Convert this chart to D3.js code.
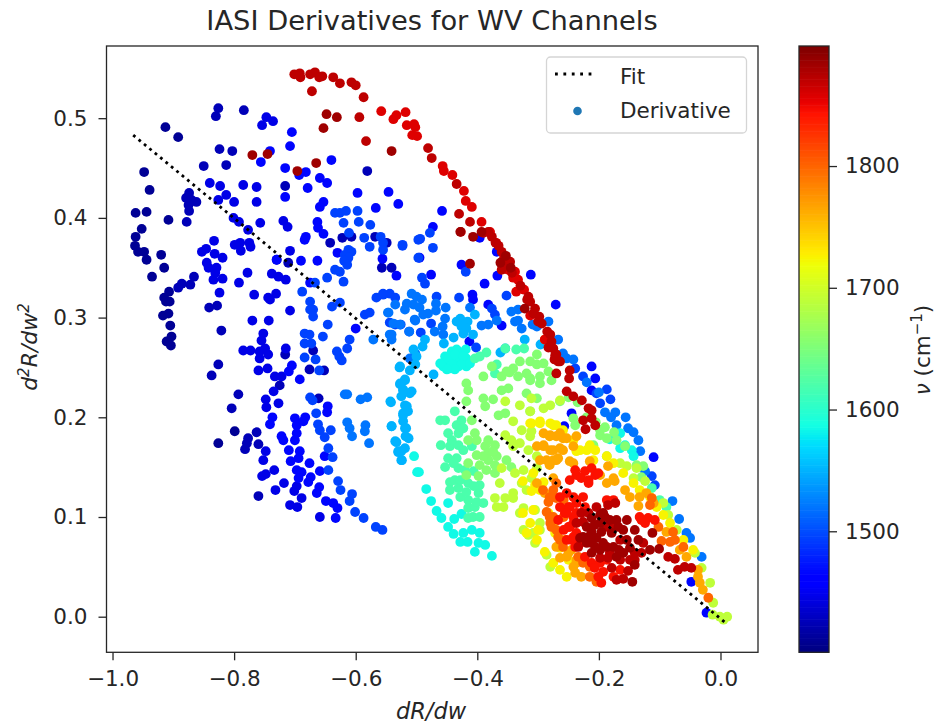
<!DOCTYPE html>
<html>
<head>
<meta charset="utf-8">
<script src="https://cdn.jsdelivr.net/npm/d3@7"></script>
<style>
  html, body { margin: 0; padding: 0; background: #fff; }
  text { font-family: "DejaVu Sans", sans-serif; fill: #262626; }
</style>
</head>
<body>
<svg id="chart" width="934" height="724"></svg>
<script>
// values, [dR/dw, d2R/dw2], one array per wavenumber band
let nu1410 = [[-.913,.491],[-.892,.481],[-.948,.446],[-.939,.428],[-.962,.405],[-.944,.406],[-.952,.389],[-.962,.381],[-.963,.372],[-.958,.366],[-.948,.366],[-.944,.358],[-.920,.363],[-.915,.350],[-.935,.341],[-.908,.398],[-.912,.316],[-.917,.302],[-.908,.304],[-.905,.292],[-.903,.281],[-.911,.276],[-.904,.272],[-.907,.326],[-.915,.320],[-.906,.316],[-.826,.174],[-.799,.186]];
let nu1425 = [[-.826,.510],[-.830,.502],[-.784,.508],[-.874,.425],[-.879,.420],[-.870,.418],[-.862,.416],[-.875,.413],[-.874,.407],[-.878,.396],[-.866,.341],[-.872,.333],[-.886,.334],[-.892,.330],[-.841,.310],[-.828,.312],[-.821,.287],[-.826,.253],[-.837,.242],[-.804,.209],[-.793,.223],[-.824,.469],[-.803,.467],[-.850,.452],[-.813,.453],[-.760,.121],[-.777,.179],[-.779,.174],[-.782,.168],[-.763,.185],[-.760,.173],[-.716,.432],[-.730,.358],[-.711,.355],[-.622,.380],[-.607,.381],[-.568,.381],[-.549,.375],[-.557,.350],[-.541,.350],[-.670,.267],[-.676,.248],[-.652,.247],[-.661,.219],[-.716,.263],[-.725,.232],[-.642,.375],[-.581,.447]];
let nu1445 = [[-.747,.501],[-.754,.493],[-.736,.497],[-.840,.435],[-.823,.432],[-.785,.433],[-.763,.431],[-.763,.416],[-.800,.416],[-.813,.423],[-.826,.418],[-.719,.397],[-.712,.391],[-.757,.395],[-.792,.396],[-.801,.400],[-.777,.388],[-.833,.377],[-.853,.366],[-.846,.369],[-.832,.364],[-.819,.360],[-.799,.373],[-.790,.375],[-.789,.367],[-.775,.375],[-.773,.371],[-.845,.355],[-.842,.350],[-.829,.350],[-.831,.345],[-.834,.338],[-.819,.339],[-.778,.345],[-.792,.335],[-.824,.325],[-.767,.323],[-.744,.320],[-.731,.324],[-.741,.318],[-.738,.344],[-.727,.341],[-.715,.338],[-.708,.367],[-.770,.297],[-.743,.297],[-.708,.307],[-.752,.284],[-.755,.277],[-.785,.267],[-.773,.267],[-.758,.266],[-.749,.269],[-.744,.263],[-.758,.259],[-.715,.269],[-.760,.247],[-.745,.249],[-.748,.218],[-.747,.210],[-.727,.214],[-.733,.241],[-.722,.241],[-.735,.226],[-.748,.166],[-.752,.157],[-.734,.147],[-.748,.143],[-.754,.141],[-.718,.134],[-.732,.127],[-.708,.112],[-.696,.110],[-.697,.131],[-.701,.126],[-.689,.119],[-.659,.100]];
let nu1465 = [[-.705,.486],[-.708,.472],[-.741,.467],[-.756,.456],[-.716,.421],[-.716,.450],[-.693,.443],[-.682,.446],[-.679,.430],[-.659,.440],[-.647,.435],[-.640,.458],[-.597,.425],[-.546,.426],[-.530,.414],[-.567,.410],[-.659,.411],[-.653,.416],[-.663,.396],[-.662,.390],[-.653,.384],[-.682,.381],[-.684,.378],[-.730,.358],[-.690,.357],[-.663,.357],[-.630,.365],[-.675,.335],[-.556,.359],[-.533,.342],[-.600,.289],[-.705,.252],[-.710,.246],[-.692,.238],[-.737,.200],[-.741,.193],[-.700,.199],[-.697,.192],[-.683,.200],[-.686,.196],[-.722,.181],[-.719,.177],[-.697,.184],[-.700,.177],[-.710,.167],[-.692,.166],[-.694,.159],[-.707,.156],[-.676,.154],[-.651,.161],[-.697,.147],[-.689,.145],[-.694,.139],[-.659,.146],[-.674,.140],[-.678,.135],[-.660,.130],[-.664,.124],[-.649,.116],[-.637,.114],[-.630,.109],[-.633,.099],[-.646,.211],[-.647,.205],[-.458,.407],[-.396,.380],[-.368,.366],[-.388,.334],[-.367,.342],[-.312,.343],[-.271,.313],[-.408,.323],[-.407,.318],[-.382,.313],[-.413,.276],[-.360,.292],[-.473,.391],[-.476,.343],[-.426,.353],[-.495,.360],[-.048,.035],[-.023,.004],[-.110,.160],[-.212,.251],[-.206,.239],[-.245,.204],[-.257,.191],[-.212,.227]];
let nu1495 = [[-.634,.405],[-.626,.405],[-.616,.407],[-.620,.395],[-.597,.407],[-.595,.396],[-.576,.393],[-.611,.385],[-.612,.368],[-.607,.366],[-.618,.363],[-.612,.360],[-.619,.357],[-.614,.353],[-.586,.380],[-.577,.371],[-.559,.381],[-.555,.375],[-.555,.368],[-.523,.372],[-.497,.378],[-.497,.360],[-.634,.348],[-.626,.346],[-.647,.340],[-.620,.336],[-.667,.335],[-.688,.326],[-.566,.320],[-.555,.324],[-.675,.316],[-.639,.311],[-.626,.315],[-.670,.308],[-.684,.284],[-.676,.283],[-.684,.274],[-.673,.274],[-.684,.260],[-.666,.258],[-.654,.281],[-.646,.293],[-.675,.308],[-.670,.301],[-.585,.303],[-.577,.305],[-.610,.278],[-.614,.269],[-.631,.266],[-.627,.261],[-.623,.257],[-.660,.247],[-.675,.220],[-.671,.217],[-.665,.204],[-.662,.193],[-.659,.187],[-.651,.180],[-.641,.187],[-.645,.169],[-.638,.160],[-.645,.147],[-.629,.136],[-.625,.127],[-.606,.123],[-.610,.116],[-.601,.105],[-.587,.099],[-.567,.090],[-.556,.087],[-.494,.379],[-.478,.385],[-.523,.373],[-.473,.370],[-.419,.346],[-.491,.340],[-.486,.334],[-.430,.320],[-.352,.322],[-.467,.321],[-.544,.324],[-.535,.320],[-.555,.323],[-.376,.309],[-.371,.303],[-.402,.270],[-.476,.294],[-.544,.295],[-.535,.293],[-.526,.293],[-.512,.286],[-.493,.285],[-.187,.228],[-.181,.218],[-.198,.214],[-.204,.224],[-.226,.241],[-.239,.249],[-.108,.132],[-.113,.141]];
let nu1520 = [[-.618,.223],[-.614,.223],[-.592,.218],[-.581,.220],[-.614,.195],[-.610,.189],[-.606,.181],[-.584,.192],[-.585,.186],[-.578,.174],[-.571,.278],[-.547,.305],[-.538,.294],[-.527,.293],[-.541,.283],[-.512,.286],[-.503,.298],[-.508,.324],[-.500,.321],[-.491,.318],[-.516,.314],[-.505,.313],[-.495,.310],[-.519,.308],[-.535,.313],[-.546,.305],[-.468,.314],[-.468,.307],[-.452,.310],[-.412,.310],[-.344,.306],[-.333,.308],[-.489,.303],[-.481,.304],[-.502,.297],[-.453,.299],[-.544,.283],[-.541,.278],[-.393,.292],[-.382,.293],[-.368,.297],[-.338,.296],[-.333,.297],[-.327,.289],[-.457,.291],[-.470,.286],[-.456,.283],[-.302,.291],[-.283,.296],[-.309,.293],[-.267,.278],[-.253,.259],[-.242,.258],[-.259,.264],[-.173,.205],[-.156,.200],[-.171,.192],[-.152,.189],[-.135,.177],[-.143,.185],[-.132,.166],[-.124,.146],[-.079,.116],[-.068,.098],[-.056,.084],[-.050,.079],[-.031,.060],[-.502,.264],[-.511,.259],[-.220,.235],[-.200,.225],[-.190,.205],[-.180,.200]];
let nu1550 = [[-.505,.268],[-.500,.261],[-.528,.250],[-.511,.247],[-.519,.238],[-.527,.233],[-.522,.228],[-.508,.226],[-.525,.221],[-.543,.216],[-.516,.211],[-.522,.204],[-.514,.206],[-.522,.196],[-.541,.191],[-.519,.189],[-.518,.181],[-.533,.175],[-.525,.166],[-.530,.165],[-.525,.157],[-.428,.299],[-.416,.296],[-.434,.296],[-.404,.303],[-.426,.291],[-.418,.289],[-.423,.284],[-.407,.283],[-.486,.278],[-.490,.271],[-.502,.253],[-.527,.251],[-.527,.234],[-.519,.237],[-.511,.224],[-.522,.227],[-.519,.212],[-.522,.202],[-.517,.189],[-.535,.176],[-.513,.179],[-.519,.169],[-.530,.166],[-.524,.157],[-.542,.215],[-.541,.191],[-.322,.278],[-.354,.269],[-.362,.265],[-.296,.273],[-.455,.274],[-.439,.280],[-.472,.243]];
let nu1585 = [[-.504,.161],[-.499,.145],[-.496,.145],[-.484,.128],[-.476,.116],[-.467,.106],[-.459,.099],[-.448,.090],[-.439,.083],[-.428,.075],[-.404,.065],[-.376,.061],[-.423,.084],[-.409,.087],[-.396,.084],[-.387,.072],[-.398,.074],[-.416,.075],[-.448,.114],[-.438,.098],[-.426,.103],[-.453,.261],[-.442,.266],[-.434,.268],[-.426,.264],[-.450,.254],[-.439,.258],[-.428,.258],[-.418,.259],[-.445,.249],[-.431,.251],[-.418,.251],[-.456,.251],[-.419,.268],[-.165,.184],[-.182,.178],[-.157,.172],[-.146,.167],[-.165,.169],[-.143,.161],[-.448,.259],[-.437,.263],[-.423,.261],[-.442,.253],[-.426,.253],[-.437,.248],[-.450,.248],[-.461,.254],[-.412,.254]];
let nu1620 = [[-.404,.259],[-.385,.265],[-.396,.261],[-.461,.197],[-.453,.197],[-.437,.206],[-.434,.192],[-.448,.184],[-.431,.184],[-.460,.172],[-.445,.171],[-.431,.172],[-.448,.159],[-.434,.159],[-.453,.150],[-.431,.149],[-.445,.135],[-.437,.137],[-.445,.127],[-.431,.129],[-.415,.134],[-.415,.117],[-.415,.109],[-.404,.110],[-.390,.114],[-.398,.124],[-.396,.132],[-.407,.100],[-.396,.100],[-.354,.269],[-.336,.268],[-.323,.269],[-.368,.253],[-.371,.244],[-.426,.197],[-.423,.189],[-.442,.177],[-.423,.167],[-.409,.171],[-.439,.154],[-.420,.147],[-.406,.146],[-.428,.137],[-.406,.131],[-.428,.120],[-.418,.125],[-.401,.115],[-.415,.099],[-.113,.129],[-.100,.117],[-.089,.110]];
let nu1655 = [[-.418,.234],[-.415,.227],[-.418,.216],[-.390,.219],[-.387,.211],[-.409,.197],[-.404,.184],[-.415,.177],[-.401,.177],[-.387,.171],[-.382,.164],[-.401,.162],[-.415,.154],[-.396,.152],[-.382,.157],[-.418,.142],[-.398,.141],[-.371,.144],[-.368,.161],[-.371,.172],[-.365,.202],[-.354,.204],[-.374,.218],[-.360,.227],[-.349,.229],[-.376,.251],[-.341,.249],[-.330,.256],[-.352,.246],[-.347,.245],[-.313,.256],[-.302,.263],[-.291,.254],[-.302,.253],[-.390,.241],[-.360,.241],[-.319,.244],[-.297,.241],[-.283,.246],[-.333,.241],[-.313,.239],[-.198,.182],[-.209,.172],[-.187,.161],[-.198,.187],[-.187,.179],[-.171,.177],[-.157,.171],[-.138,.152],[-.127,.151],[-.130,.140],[-.382,.177],[-.374,.166],[-.390,.161],[-.385,.147],[-.371,.152],[-.352,.157],[-.344,.150],[-.313,.237],[-.297,.234],[-.319,.224],[-.302,.219],[-.278,.237],[-.264,.216],[-.242,.199],[-.239,.192],[-.313,.206],[-.250,.220],[-.235,.215],[-.220,.200],[-.205,.195],[-.190,.190],[-.175,.185]];
let nu1690 = [[-.354,.216],[-.341,.196],[-.330,.212],[-.311,.219],[-.280,.212],[-.291,.209],[-.264,.217],[-.313,.206],[-.327,.187],[-.311,.186],[-.354,.182],[-.344,.177],[-.360,.149],[-.338,.144],[-.363,.134],[-.371,.119],[-.354,.119],[-.368,.110],[-.357,.110],[-.341,.124],[-.341,.119],[-.327,.134],[-.330,.104],[-.324,.109],[-.324,.087],[-.308,.084],[-.316,.082],[-.305,.074],[-.297,.087],[-.305,.107],[-.297,.094],[-.286,.062],[-.280,.050],[-.165,.154],[-.138,.149],[-.124,.136],[-.143,.139],[-.154,.151],[-.094,.114],[-.086,.102],[-.072,.087],[-.042,.064],[-.031,.049],[-.017,.034],[-.012,.014],[-.013,.002],[-.001,.000],[.011,.000],[.005,-.003],[-.302,.149],[-.330,.174],[-.316,.167],[-.302,.161],[-.313,.181],[-.341,.171],[-.324,.147],[-.311,.139],[-.319,.127]];
let nu1725 = [[-.297,.194],[-.280,.194],[-.311,.194],[-.270,.192],[-.220,.167],[-.209,.157],[-.237,.166],[-.291,.135],[-.305,.132],[-.297,.127],[-.311,.126],[-.283,.104],[-.275,.094],[-.272,.084],[-.264,.069],[-.250,.057],[-.325,.104],[-.308,.107],[-.313,.094],[-.300,.087],[-.319,.084],[-.302,.077],[-.289,.065],[-.275,.054],[-.264,.047],[-.253,.040],[-.313,.194],[-.297,.196],[-.275,.192],[-.259,.187],[-.242,.177],[-.231,.167],[-.215,.172],[-.206,.167],[-.187,.161],[-.176,.154],[-.160,.144],[-.143,.134],[-.133,.127],[-.116,.120],[-.105,.110],[-.094,.102],[-.083,.094],[-.061,.077],[-.045,.067],[-.308,.144],[-.325,.136]];
let nu1765 = [[-.291,.184],[-.280,.182],[-.291,.172],[-.270,.181],[-.259,.179],[-.280,.167],[-.264,.169],[-.270,.157],[-.286,.157],[-.242,.171],[-.237,.181],[-.185,.151],[-.174,.136],[-.157,.127],[-.135,.111],[-.149,.120],[-.198,.142],[-.242,.154],[-.291,.171],[-.275,.157],[-.267,.159],[-.302,.134],[-.289,.124],[-.239,.044],[-.037,.040],[-.034,.034],[-.289,.278],[-.275,.139],[-.256,.077],[-.245,.067],[-.253,.060],[-.237,.057],[-.270,.070],[-.302,.171],[-.281,.181],[-.264,.184],[-.253,.179],[-.275,.167],[-.259,.167],[-.297,.157],[-.281,.152],[-.248,.156],[-.187,.134],[-.215,.156],[-.176,.139],[-.133,.120],[-.122,.124],[-.110,.114],[-.089,.085],[-.067,.067],[-.056,.060],[-.037,.047],[-.029,.027],[-.264,.059],[-.250,.064],[-.242,.050],[-.229,.040],[-.237,.054]];
let nu1800 = [[-.270,.119],[-.283,.115],[-.286,.105],[-.275,.100],[-.280,.094],[-.270,.087],[-.264,.077],[-.226,.054],[-.215,.050],[-.113,.119],[-.116,.112],[-.102,.090],[-.078,.085],[-.083,.075],[-.097,.076],[-.061,.070],[-.020,.019],[-.258,.117],[-.258,.100],[-.281,.120],[-.275,.127],[-.292,.127],[-.270,.134],[-.281,.100],[-.278,.090],[-.267,.080],[-.259,.070],[-.215,.040],[-.204,.035],[-.234,.060],[-.075,.077]];
let nu1845 = [[-.250,.110],[-.237,.114],[-.256,.104],[-.242,.100],[-.248,.090],[-.237,.084],[-.231,.074],[-.245,.077],[-.242,.120],[-.237,.142],[-.223,.146],[-.206,.142],[-.217,.134],[-.248,.110],[-.242,.094],[-.258,.087],[-.119,.099],[-.108,.097],[-.130,.097],[-.196,.034],[-.201,.040],[-.264,.120],[-.253,.124],[-.264,.110],[-.253,.104],[-.267,.097],[-.250,.090],[-.237,.117],[-.226,.120],[-.237,.104],[-.223,.110],[-.242,.080],[-.253,.077],[-.239,.070],[-.223,.060],[-.212,.054],[-.198,.054],[-.187,.057],[-.193,.045],[-.176,.040],[-.165,.047],[-.207,.049],[-.248,.137],[-.239,.147],[-.229,.139],[-.212,.149],[-.201,.144],[-.217,.137],[-.176,.117],[-.187,.117],[-.133,.100],[-.124,.094]];
let nu1858 = [[-.518,.506],[-.558,.507],[-.538,.499],[-.533,.503],[-.516,.493],[-.504,.494],[-.502,.491],[-.507,.483],[-.499,.482],[-.457,.452],[-.455,.447],[-.441,.443],[-.422,.427],[-.419,.417],[-.409,.411],[-.393,.396],[-.379,.386],[-.369,.375],[-.349,.348],[-.338,.346],[-.341,.340],[-.333,.338],[-.336,.326],[-.323,.328],[-.313,.302],[-.289,.278]];
let nu1872 = [[-.701,.544],[-.692,.545],[-.691,.541],[-.675,.544],[-.667,.546],[-.660,.541],[-.655,.542],[-.637,.541],[-.626,.535],[-.607,.536],[-.600,.533],[-.587,.521],[-.672,.527],[-.594,.501],[-.583,.477],[-.481,.470],[-.475,.460],[-.434,.434],[-.430,.404],[-.412,.396],[-.427,.386],[-.390,.385],[-.382,.386],[-.376,.381],[-.370,.375],[-.360,.366],[-.356,.360],[-.346,.356],[-.360,.348],[-.316,.321],[-.313,.316],[-.305,.309],[-.298,.301],[-.294,.294],[-.280,.283],[-.278,.276],[-.275,.269],[-.270,.263],[-.264,.256],[-.272,.262],[-.267,.256],[-.270,.244],[-.248,.247],[-.249,.239],[-.253,.226],[-.242,.221],[-.228,.217],[-.217,.209],[-.212,.207],[-.226,.197],[-.212,.199],[-.206,.192],[-.222,.188],[-.204,.110],[-.185,.112],[-.173,.114],[-.226,.095],[-.141,.057],[-.130,.064],[-.086,.060],[-.075,.058],[-.070,.047],[-.059,.050],[-.048,.049],[-.152,.046],[-.179,.049],[-.171,.037],[-.160,.038],[-.185,.059],[-.165,.057],[-.237,.094],[-.229,.104],[-.187,.090],[-.176,.090],[-.234,.070],[-.198,.059],[-.182,.064],[-.149,.057],[-.165,.077],[-.141,.064],[-.127,.074],[-.217,.104],[-.365,.372],[-.352,.352],[-.343,.345],[-.329,.332],[-.318,.318],[-.308,.304],[-.300,.296],[-.285,.286],[-.283,.270],[-.273,.258]];
let nu1885 = [[-.770,.463],[-.745,.464],[-.648,.504],[-.631,.501],[-.653,.490],[-.541,.467],[-.665,.455],[-.696,.447],[-.407,.381],[-.393,.386],[-.428,.386],[-.412,.354],[-.362,.355],[-.322,.309],[-.193,.104],[-.212,.099],[-.198,.094],[-.182,.097],[-.154,.097],[-.168,.090],[-.212,.085],[-.196,.085],[-.231,.079],[-.220,.074],[-.206,.070],[-.212,.064],[-.193,.074],[-.179,.084],[-.154,.077],[-.141,.087],[-.135,.077],[-.149,.069],[-.167,.067],[-.141,.052],[-.116,.067],[-.101,.068],[-.112,.084],[-.145,.035],[-.220,.090],[-.207,.092],[-.217,.080],[-.204,.079],[-.226,.080],[-.212,.074],[-.198,.067],[-.187,.070],[-.171,.097],[-.190,.100],[-.198,.102],[-.160,.087],[-.176,.070],[-.171,.060],[-.160,.064],[-.353,.362],[-.345,.350]];

let bands = [[1410,nu1410],[1425,nu1425],[1445,nu1445],[1465,nu1465],[1495,nu1495],[1520,nu1520],[1550,nu1550],[1585,nu1585],[1620,nu1620],[1655,nu1655],[1690,nu1690],[1725,nu1725],[1765,nu1765],[1800,nu1800],[1845,nu1845],[1858,nu1858],[1872,nu1872],[1885,nu1885]];

let fitX = [-0.966, 0.008];
let fitY = [0.483, -0.006];
let xTicks = [-1.0, -0.8, -0.6, -0.4, -0.2, 0.0];
let yTicks = [0.0, 0.1, 0.2, 0.3, 0.4, 0.5];
let nuTicks = [1500, 1600, 1700, 1800];
let nuRange = [1400.6, 1898.6];

// matplotlib's jet, as its segments
let jetR = d3.scaleLinear().domain([0, .35, .66, .89, 1]).range([0, 0, 1, 1, .5]);
let jetG = d3.scaleLinear().domain([0, .125, .375, .64, .91, 1]).range([0, 0, 1, 1, 0, 0]);
let jetB = d3.scaleLinear().domain([0, .11, .34, .65, 1]).range([.5, 1, 1, 0, 0]);
let jet = function(t) {
    return d3.rgb(jetR(t) * 255, jetG(t) * 255, jetB(t) * 255).formatHex();
};

let left = 106.5, right = 758, top_ = 46, bottom = 652.3;
let xScale = d3.scaleLinear().domain([-1.0099, 0.0617]).range([left, right]);
let yScale = d3.scaleLinear().domain([-0.0357, 0.5724]).range([bottom, top_]);
let nuScale = d3.scaleLinear().domain(nuRange).range([bottom, top_]);
let nuNorm = d3.scaleLinear().domain(nuRange).range([0, 1]).clamp(true);

let svg = d3.select("#chart");
let minus = function(d, digits) { return d.toFixed(digits).replace("-", "\u2212"); };

// points, low wavenumber first
let points = [];
bands.forEach(function(b) {
    b[1].forEach(function(p) { points.push({x: p[0], y: p[1], nu: b[0]}); });
});
svg.append("g").selectAll("circle")
    .data(points)
    .enter()
    .append("circle")
    .attr("cx", d => xScale(d.x))
    .attr("cy", d => yScale(d.y))
    .attr("r", 4.9)
    .attr("fill", d => jet(nuNorm(d.nu)));

// fit line
svg.append("path")
    .attr("d", d3.line()([[xScale(fitX[0]), yScale(fitY[0])], [xScale(fitX[1]), yScale(fitY[1])]]))
    .attr("fill", "none")
    .attr("stroke", "#000")
    .attr("stroke-width", 2.8)
    .attr("stroke-dasharray", "2.8 4.2");

// axes
let styleAxis = function(g) {
    g.selectAll("text").style("font-size", "21.5px").style("font-family", '"DejaVu Sans"').attr("fill", "#262626");
    g.selectAll("line").attr("stroke", "#262626").attr("stroke-width", 1.3);
    g.select(".domain").remove();
};
svg.append("g").attr("transform", "translate(0," + bottom + ")")
    .call(d3.axisBottom(xScale).tickValues(xTicks).tickSize(8).tickPadding(10).tickFormat(d => minus(d, 1)))
    .call(styleAxis);
svg.append("g").attr("transform", "translate(" + left + ",0)")
    .call(d3.axisLeft(yScale).tickValues(yTicks).tickSize(8).tickPadding(11).tickFormat(d => d.toFixed(1)))
    .call(styleAxis);
svg.append("rect")
    .attr("x", left).attr("y", top_)
    .attr("width", right - left).attr("height", bottom - top_)
    .attr("fill", "none").attr("stroke", "#262626").attr("stroke-width", 1.3);

// title and axis labels
svg.append("text").attr("x", 432).attr("y", 30).attr("text-anchor", "middle")
    .style("font-size", "27.3px").text("IASI Derivatives for WV Channels");
svg.append("text").attr("x", 431).attr("y", 719).attr("text-anchor", "middle")
    .style("font-size", "22.5px").style("font-style", "italic").text("dR/dw");
let yLabel = svg.append("text").attr("transform", "translate(37,347) rotate(-90)")
    .attr("text-anchor", "middle").style("font-size", "22px").style("font-style", "italic");
yLabel.append("tspan").text("d");
yLabel.append("tspan").attr("dy", -8).style("font-size", "15px").text("2");
yLabel.append("tspan").attr("dy", 8).text("R/dw");
yLabel.append("tspan").attr("dy", -8).style("font-size", "15px").text("2");

// legend
svg.append("rect")
    .attr("x", 546.5).attr("y", 57).attr("width", 200).attr("height", 76).attr("rx", 4)
    .attr("fill", "#fff").attr("fill-opacity", 0.8).attr("stroke", "#d5d5d5").attr("stroke-width", 1.3);
svg.append("line")
    .attr("x1", 555).attr("x2", 596).attr("y1", 74).attr("y2", 74)
    .attr("stroke", "#000").attr("stroke-width", 2.8).attr("stroke-dasharray", "2.8 5.6");
svg.append("circle").attr("cx", 577.5).attr("cy", 111).attr("r", 4.3).attr("fill", "#1f77b4");
svg.append("text").attr("x", 620).attr("y", 84).style("font-size", "21.5px").text("Fit");
svg.append("text").attr("x", 620).attr("y", 118).style("font-size", "21.5px").text("Derivative");

// colorbar
let cbLeft = 799, cbRight = 829;
let barSteps = d3.range(256);
svg.append("g").selectAll("rect")
    .data(barSteps)
    .enter()
    .append("rect")
    .attr("x", cbLeft)
    .attr("width", cbRight - cbLeft)
    .attr("y", d => top_ + (bottom - top_) * (255 - d) / 256)
    .attr("height", (bottom - top_) / 256 + 0.6)
    .attr("fill", d => jet(d / 255));
svg.append("rect")
    .attr("x", cbLeft).attr("y", top_)
    .attr("width", cbRight - cbLeft).attr("height", bottom - top_)
    .attr("fill", "none").attr("stroke", "#262626").attr("stroke-width", 1.3);
svg.append("g").attr("transform", "translate(" + cbRight + ",0)")
    .call(d3.axisRight(nuScale).tickValues(nuTicks).tickSize(8).tickPadding(8).tickFormat(d => d))
    .call(styleAxis);
let cbLabel = svg.append("text").attr("transform", "translate(930,350) rotate(-90)")
    .attr("text-anchor", "middle").style("font-size", "21.5px");
cbLabel.append("tspan").style("font-style", "italic").text("\u03bd");
cbLabel.append("tspan").text(" (cm");
cbLabel.append("tspan").attr("dy", -8).style("font-size", "15px").text("\u22121");
cbLabel.append("tspan").attr("dy", 8).text(")");
</script>
</body>
</html>
